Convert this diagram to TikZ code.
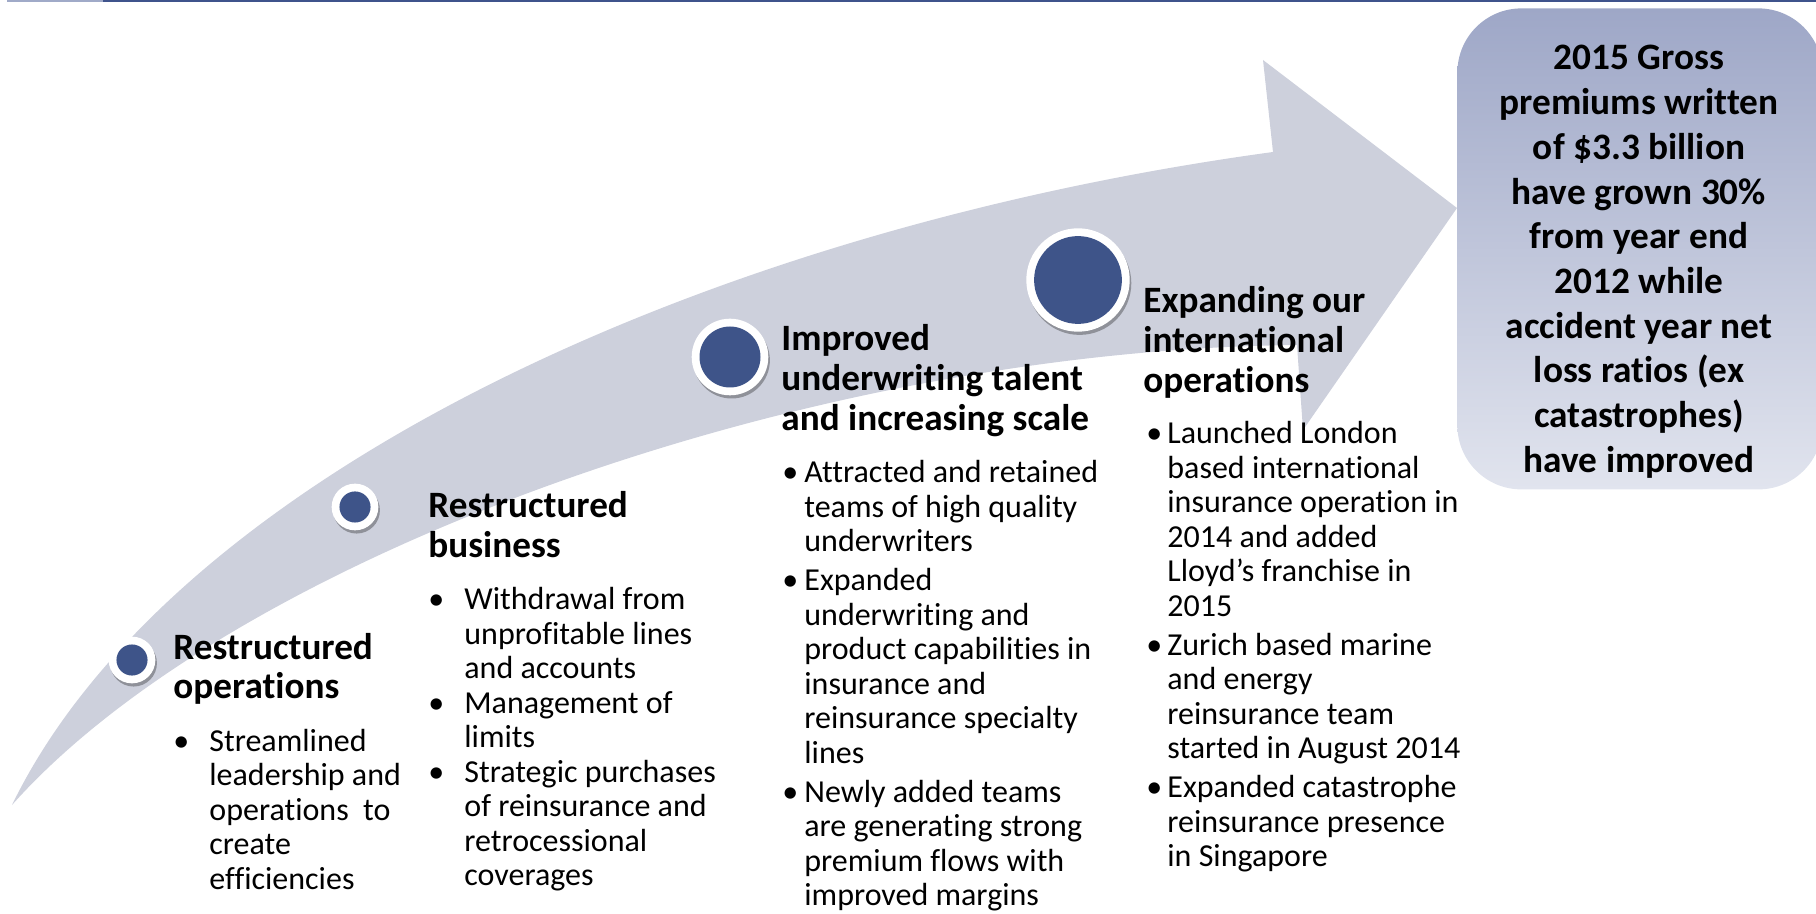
\documentclass[tikz,border=0pt]{standalone}
\usepackage{fontspec}
\setmainfont{Carlito}[Ligatures={TeX,NoCommon}]
\usetikzlibrary{shadows}

\definecolor{barlight}{RGB}{160,170,200}
\definecolor{bardark}{RGB}{63,83,140}
\definecolor{arrowgray}{RGB}{205,208,220}
\definecolor{milestoneblue}{RGB}{62,84,137}
\definecolor{boxtop}{RGB}{158,167,199}
\definecolor{boxbottom}{RGB}{225,228,238}

\tikzset{
  heading/.style={anchor=base west, inner sep=0pt, font=\fontsize{18.6pt}{20pt}\selectfont\bfseries},
  bodytext/.style={anchor=base west, inner sep=0pt, font=\fontsize{16pt}{17.25pt}\selectfont},
  goalfont/.style={anchor=base, inner sep=0pt, font=\fontsize{18.65pt}{22.35pt}\selectfont\bfseries},
  goalbox/.style={rectangle, rounded corners=32pt, inner sep=0pt, top color=boxtop, bottom color=boxbottom},
  milestone/.style={circle, inner sep=0pt, minimum size=#1, fill=white,
    drop shadow={shadow xshift=0.8pt, shadow yshift=-1.6pt, opacity=0.3, fill=black},
    path picture={\fill[milestoneblue] (path picture bounding box.center) circle[radius=#1/2-3.9pt];}}
}

\begin{document}
\begin{tikzpicture}[x=0.5pt, y=-0.5pt]
  \useasboundingbox (0,0) rectangle (1816,914);

  % rule along the top
  \fill[barlight] (7,0) rectangle (103,2.5);
  \fill[bardark] (103,0) rectangle (1816,2.5);

  % the rising arrow
  \fill[arrowgray] (12,805) .. controls (170,480) and (700,230) .. (1273,152)
    -- (1263,60) -- (1457,208) -- (1303,430) -- (1297,345)
    .. controls (800,350) and (230,560) .. (12,805) -- cycle;

  % result box
  \node[goalbox, anchor=north west, minimum width=182.5pt, minimum height=240.5pt] (goal) at (1457,8) {};
  \node[goalfont] (goaltext) at (1639,70) {\begin{tabular}[t]{@{}c@{}}
    2015 Gross\\premiums written\\of \$3.3 billion\\have grown 30\%\\from year end\\
    2012 while\\accident year net\\loss ratios (ex\\catastrophes)\\have improved
  \end{tabular}};

  % milestones on the arrow
  \node[milestone=23.35pt] (m1) at (132,660) {};
  \node[milestone=23.35pt] (m2) at (355,507) {};
  \node[milestone=38.3pt] (m3) at (730,357) {};
  \node[milestone=51.7pt] (m4) at (1078,280) {};

  % step 1
  \node[heading] (h1) at (173,659) {\begin{tabular}[t]{@{}l@{}}Restructured\\operations\end{tabular}};
  \node[bodytext] (l1) at (173,751) {\begin{tabular}[t]{@{}p{18pt}@{}l@{}}
    \textbullet & Streamlined\\
    & leadership and\\
    & operations\ \ to\\
    & create\\
    & efficiencies
  \end{tabular}};

  % step 2
  \node[heading] (h2) at (428,518) {\begin{tabular}[t]{@{}l@{}}Restructured\\business\end{tabular}};
  \node[bodytext] (l2) at (428,610) {\begin{tabular}[t]{@{}p{18pt}@{}l@{}}
    \textbullet & Withdrawal from\\
    & unprofitable lines\\
    & and accounts\\
    \textbullet & Management of\\
    & limits\\
    \textbullet & Strategic purchases\\
    & of reinsurance and\\
    & retrocessional\\
    & coverages
  \end{tabular}};

  % step 3
  \node[heading] (h3) at (781,351) {\begin{tabular}[t]{@{}l@{}}Improved\\underwriting talent\\and increasing scale\end{tabular}};
  \node[bodytext] (l3) at (782,483) {\begin{tabular}[t]{@{}p{11pt}@{}l@{}}
    \textbullet & Attracted and retained\\
    & teams of high quality\\
    & underwriters\\[2.25pt]
    \textbullet & Expanded\\
    & underwriting and\\
    & product capabilities in\\
    & insurance and\\
    & reinsurance specialty\\
    & lines\\[2.25pt]
    \textbullet & Newly added teams\\
    & are generating strong\\
    & premium flows with\\
    & improved margins
  \end{tabular}};

  % step 4
  \node[heading] (h4) at (1143,313) {\begin{tabular}[t]{@{}l@{}}Expanding our\\international\\operations\end{tabular}};
  \node[bodytext] (l4) at (1146,444) {\begin{tabular}[t]{@{}p{10.5pt}@{}l@{}}
    \textbullet & Launched London\\
    & based international\\
    & insurance operation in\\
    & 2014 and added\\
    & Lloyd’s franchise in\\
    & 2015\\[2.25pt]
    \textbullet & Zurich based marine\\
    & and energy\\
    & reinsurance team\\
    & started in August 2014\\[2.25pt]
    \textbullet & Expanded catastrophe\\
    & reinsurance presence\\
    & in Singapore
  \end{tabular}};
\end{tikzpicture}
\end{document}
